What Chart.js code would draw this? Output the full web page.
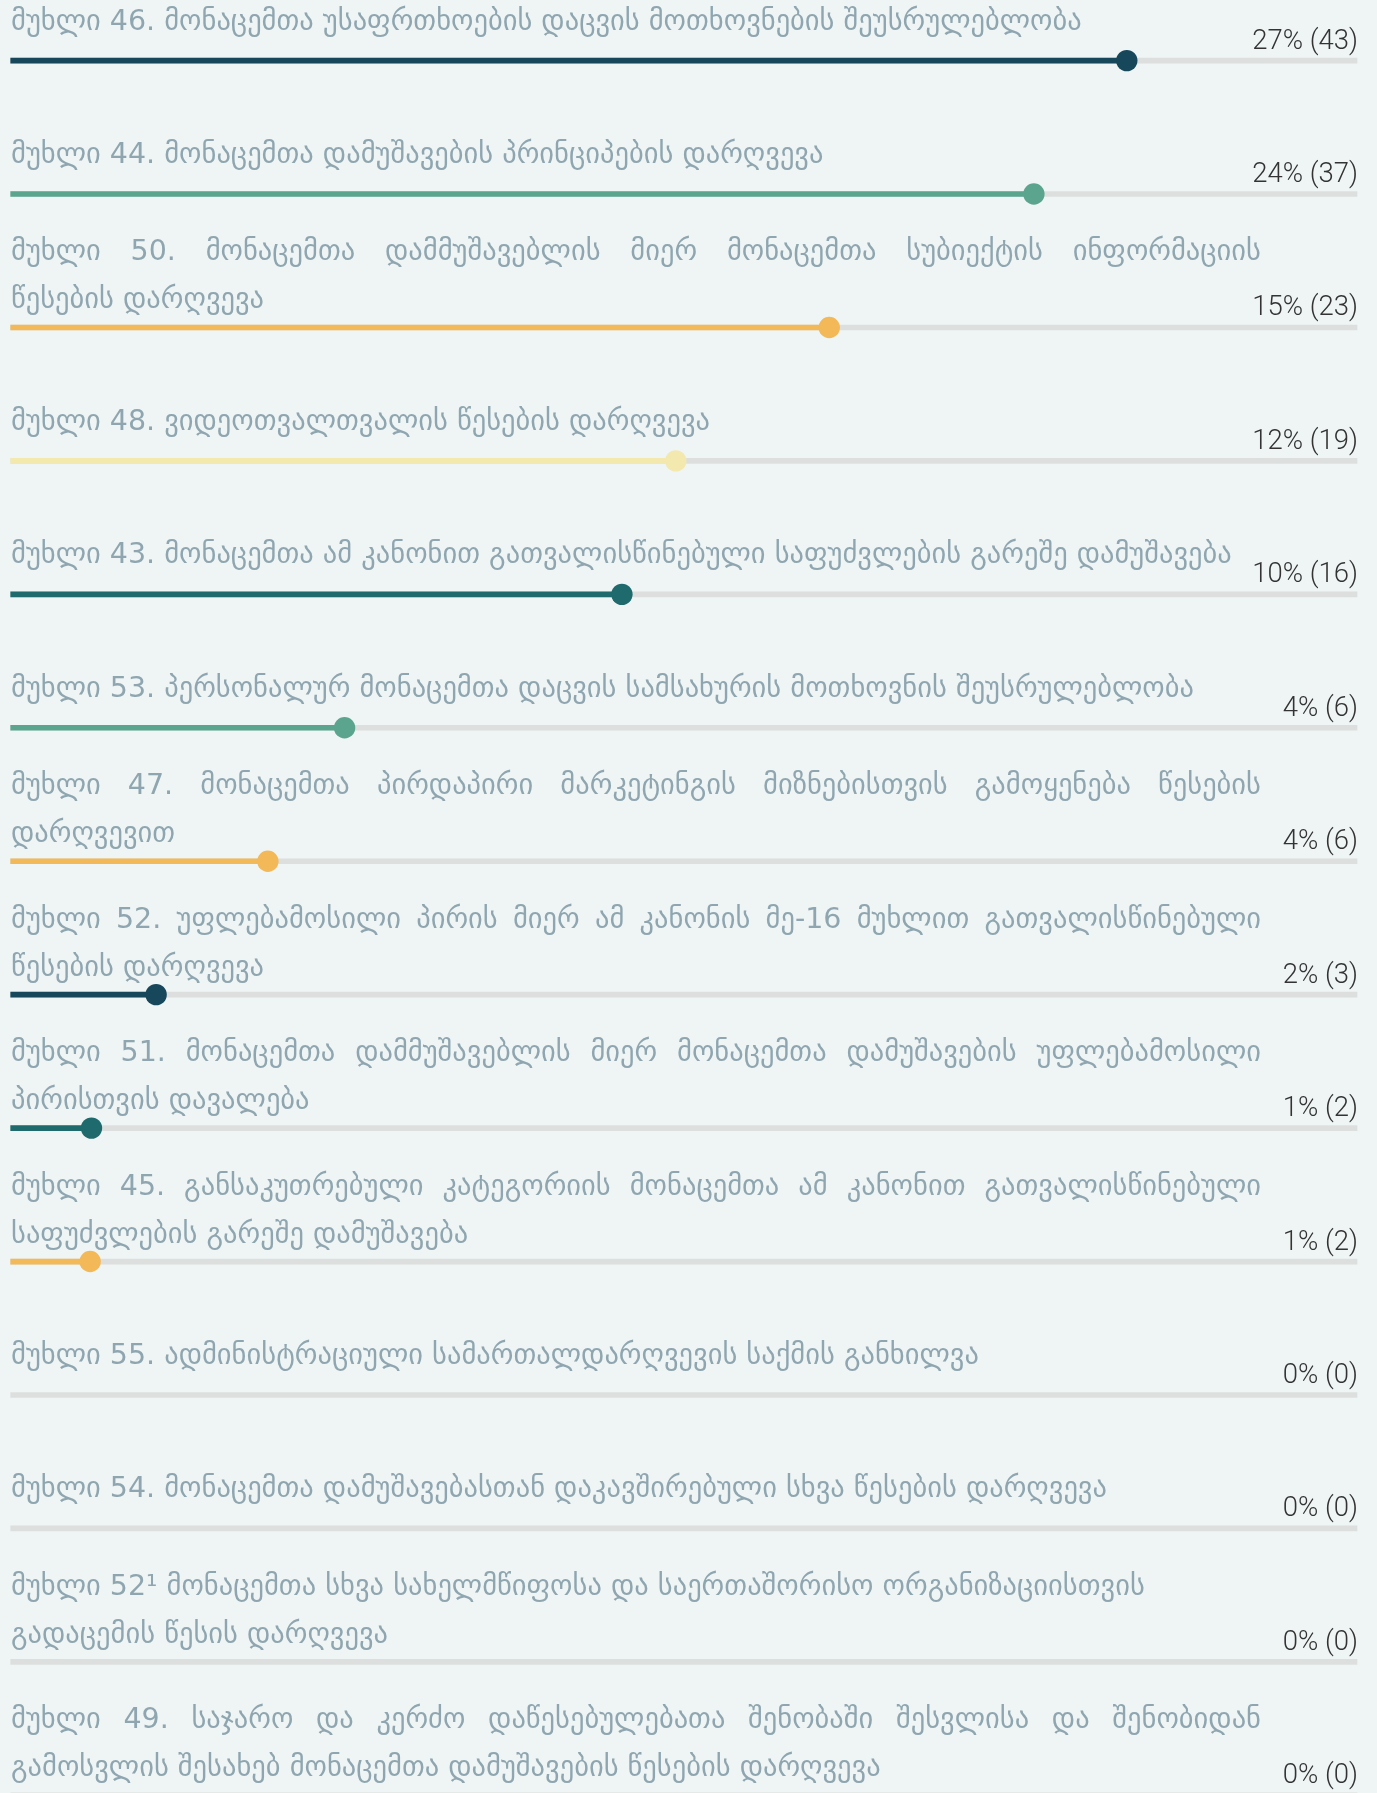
<!DOCTYPE html>
<html lang="ka">
<head>
    <meta charset="UTF-8">
    <script src="https://cdn.jsdelivr.net/npm/chart.js"></script>
    <title>სამართალდარღვევები მუხლების მიხედვით</title>
    <style>
        html, body { margin: 0; padding: 0; background: #eff5f5; overflow: hidden; }
    </style>
</head>
<body>
    <canvas id="myChart" width="1377" height="1806"></canvas>

    <script>
        // მუხლები (wrapped lines as in the picture, "\n" = hard break)
        const articles = [
            'მუხლი 46. მონაცემთა უსაფრთხოების დაცვის მოთხოვნების შეუსრულებლობა',
            'მუხლი 44. მონაცემთა დამუშავების პრინციპების დარღვევა',
            ['მუხლი 50. მონაცემთა დამმუშავებლის მიერ მონაცემთა სუბიექტის ინფორმაციის', 'წესების დარღვევა'],
            'მუხლი 48. ვიდეოთვალთვალის წესების დარღვევა',
            'მუხლი 43. მონაცემთა ამ კანონით გათვალისწინებული საფუძვლების გარეშე დამუშავება',
            'მუხლი 53. პერსონალურ მონაცემთა დაცვის სამსახურის მოთხოვნის შეუსრულებლობა',
            ['მუხლი 47. მონაცემთა პირდაპირი მარკეტინგის მიზნებისთვის გამოყენება წესების', 'დარღვევით'],
            ['მუხლი 52. უფლებამოსილი პირის მიერ ამ კანონის მე-16 მუხლით გათვალისწინებული', 'წესების დარღვევა'],
            ['მუხლი 51. მონაცემთა დამმუშავებლის მიერ მონაცემთა დამუშავების უფლებამოსილი', 'პირისთვის დავალება'],
            ['მუხლი 45. განსაკუთრებული კატეგორიის მონაცემთა ამ კანონით გათვალისწინებული', 'საფუძვლების გარეშე დამუშავება'],
            'მუხლი 55. ადმინისტრაციული სამართალდარღვევის საქმის განხილვა',
            'მუხლი 54. მონაცემთა დამუშავებასთან დაკავშირებული სხვა წესების დარღვევა',
            'მუხლი 52¹ მონაცემთა სხვა სახელმწიფოსა და საერთაშორისო ორგანიზაციისთვის\nგადაცემის წესის დარღვევა',
            ['მუხლი 49. საჯარო და კერძო დაწესებულებათა შენობაში შესვლისა და შენობიდან', 'გამოსვლის შესახებ მონაცემთა დამუშავების წესების დარღვევა']
        ];
        const percents = [27, 24, 15, 12, 10, 4, 4, 2, 1, 1, 0, 0, 0, 0];
        const counts = [43, 37, 23, 19, 16, 6, 6, 3, 2, 2, 0, 0, 0, 0];
        // how far each line is filled in the picture (% of the track)
        const fillLevels = [82.9, 76.0, 60.8, 49.4, 45.4, 24.8, 19.1, 10.8, 6.0, 5.9, 0, 0, 0, 0];

        const NAVY = '#16475b', GREEN = '#5ba58f', ORANGE = '#f3b858', PALE = '#f3e9ae', TEAL = '#1e6a6d';
        const rowColors = [NAVY, GREEN, ORANGE, PALE, TEAL, GREEN, ORANGE, NAVY, TEAL, ORANGE, NAVY, NAVY, NAVY, NAVY];

        const LABEL_FONT = "28.5px 'DejaVu Sans', sans-serif";
        const VALUE_FONT = "300 27.5px Roboto, 'Liberation Sans', sans-serif";
        const TEXT_WIDTH = 1250;

        function drawJustified(ctx, line, x, y, width) {
            const words = line.split(' ');
            const sum = words.reduce((s, w) => s + ctx.measureText(w).width, 0);
            const gap = Math.max((width - sum) / (words.length - 1), ctx.measureText(' ').width);
            let cx = x;
            words.forEach(w => {
                ctx.fillText(w, cx, y);
                cx += ctx.measureText(w).width + gap;
            });
        }

        const rowText = {
            id: 'rowText',
            afterDatasetsDraw(chart) {
                const { ctx, scales: { x, y } } = chart;
                ctx.save();
                ctx.textBaseline = 'alphabetic';
                chart.data.labels.forEach((lab, i) => {
                    const track = y.getPixelForValue(i);
                    let lines, justify;
                    if (Array.isArray(lab)) { lines = lab; justify = true; }
                    else { lines = lab.split('\n'); justify = false; }

                    ctx.font = LABEL_FONT;
                    ctx.fillStyle = '#8fa6b0';
                    ctx.textAlign = 'left';
                    const last = lines.length > 1 ? track - 19 : track - 31;
                    lines.forEach((ln, k) => {
                        const by = last - (lines.length - 1 - k) * 48;
                        if (justify && k < lines.length - 1) drawJustified(ctx, ln, 11, by, TEXT_WIDTH);
                        else ctx.fillText(ln, 11, by);
                    });

                    ctx.font = VALUE_FONT;
                    ctx.fillStyle = '#333333';
                    ctx.textAlign = 'right';
                    ctx.fillText(percents[i] + '% (' + counts[i] + ')', x.right + 1, track - 12);
                });
                ctx.restore();
            }
        };

        const ctx = document.getElementById('myChart').getContext('2d');
        new Chart(ctx, {
            type: 'bar',
            data: {
                labels: articles,
                datasets: [
                    {
                        type: 'line',
                        indexAxis: 'y',
                        data: fillLevels,
                        showLine: false,
                        pointRadius: c => (fillLevels[c.dataIndex] > 0 ? 10.7 : 0),
                        pointBackgroundColor: rowColors,
                        pointBorderWidth: 0,
                        clip: false,
                        order: 1
                    },
                    {
                        data: fillLevels.map(v => (v > 0 ? v : null)),
                        backgroundColor: rowColors,
                        barThickness: 5,
                        grouped: false,
                        borderWidth: 0,
                        clip: false,
                        order: 2
                    },
                    {
                        data: articles.map(() => 100),
                        backgroundColor: '#dcdfde',
                        barThickness: 5,
                        grouped: false,
                        borderWidth: 0,
                        clip: false,
                        order: 3
                    }
                ]
            },
            options: {
                indexAxis: 'y',
                responsive: false,
                animation: false,
                layout: { padding: { top: 60.6, bottom: 6, left: 10, right: 20 } },
                scales: {
                    x: { display: false, min: 0, max: 100 },
                    y: { display: false, offset: false }
                },
                plugins: {
                    legend: { display: false },
                    tooltip: { enabled: false }
                }
            },
            plugins: [rowText]
        });
    </script>
</body>
</html>
